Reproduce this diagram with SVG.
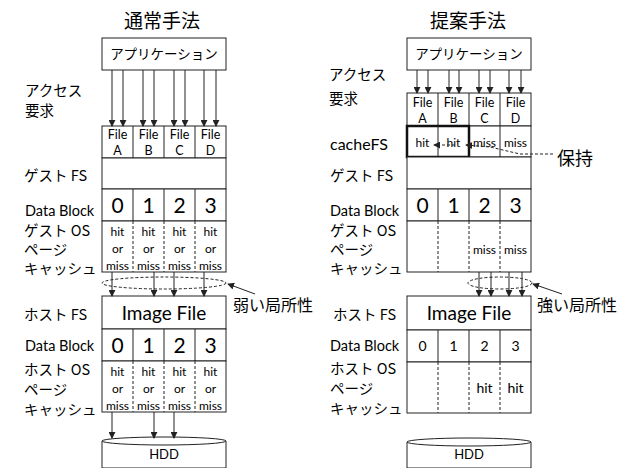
<svg xmlns="http://www.w3.org/2000/svg" width="633" height="468" viewBox="0 0 633 468">
<defs>
<style>
.bx{fill:#fff;stroke:#222;stroke-width:1}
.ln{stroke:#222;stroke-width:1;fill:none}
.dl{stroke:#222;stroke-width:1;fill:none;stroke-dasharray:3,2}
.ar{stroke:#222;stroke-width:1;fill:none;marker-end:url(#ah)}
.jp{font-family:"Noto Sans CJK JP","Noto Sans",sans-serif;fill:#000}
.la{font-family:Lato,"Liberation Sans",sans-serif;fill:#000}
.c{text-anchor:middle}
</style>
<marker id="ah" viewBox="0 0 8 8" refX="7" refY="4" markerWidth="7" markerHeight="7" markerUnits="userSpaceOnUse" orient="auto">
<path d="M0,0 L8,4 L0,8 Z" fill="#222"/>
</marker>
</defs>
<rect width="633" height="468" fill="#fff"/>

<!-- LEFT PANEL -->
<g id="left-title"><text class="jp c" x="162" y="28" font-size="19">通常手法</text></g>
<g id="left-app"><rect class="bx" x="102" y="38" width="124" height="32"/><text class="jp c" x="164" y="59" font-size="13.5">アプリケーション</text></g>
<g id="left-files">
<rect class="bx" x="102" y="126" width="124" height="32"/>
<line class="ln" x1="133" y1="126" x2="133" y2="158"/><line class="ln" x1="164" y1="126" x2="164" y2="158"/><line class="ln" x1="195" y1="126" x2="195" y2="158"/>
<g class="la c" font-size="12.5"><text x="117.5" y="139">File</text><text x="117.5" y="155">A</text><text x="148.5" y="139">File</text><text x="148.5" y="155">B</text><text x="179.5" y="139">File</text><text x="179.5" y="155">C</text><text x="210.5" y="139">File</text><text x="210.5" y="155">D</text></g>
</g>
<g id="left-guestfs"><rect class="bx" x="102" y="158" width="124" height="31"/></g>
<g id="left-datablock">
<rect class="bx" x="102" y="189" width="124" height="32"/>
<line class="ln" x1="133" y1="189" x2="133" y2="221"/><line class="ln" x1="164" y1="189" x2="164" y2="221"/><line class="ln" x1="195" y1="189" x2="195" y2="221"/>
<g class="la c" font-size="21"><text x="117.5" y="213">0</text><text x="148.5" y="213">1</text><text x="179.5" y="213">2</text><text x="210.5" y="213">3</text></g>
</g>
<g id="left-guestcache">
<rect class="bx" x="102" y="221" width="124" height="51"/>
<line class="dl" x1="133" y1="221" x2="133" y2="272"/><line class="dl" x1="164" y1="221" x2="164" y2="272"/><line class="dl" x1="195" y1="221" x2="195" y2="272"/>
<g class="la c" font-size="12"><text x="117.5" y="236">hit</text><text x="117.5" y="253">or</text><text x="117.5" y="270">miss</text><text x="148.5" y="236">hit</text><text x="148.5" y="253">or</text><text x="148.5" y="270">miss</text><text x="179.5" y="236">hit</text><text x="179.5" y="253">or</text><text x="179.5" y="270">miss</text><text x="210.5" y="236">hit</text><text x="210.5" y="253">or</text><text x="210.5" y="270">miss</text></g>
</g>
<g id="left-imagefile"><rect class="bx" x="102" y="296" width="124" height="33"/><text class="la c" x="164" y="320" font-size="19">Image File</text></g>
<g id="left-hostblock">
<rect class="bx" x="102" y="329" width="124" height="32"/>
<line class="ln" x1="133" y1="329" x2="133" y2="361"/><line class="ln" x1="164" y1="329" x2="164" y2="361"/><line class="ln" x1="195" y1="329" x2="195" y2="361"/>
<g class="la c" font-size="21"><text x="117.5" y="353">0</text><text x="148.5" y="353">1</text><text x="179.5" y="353">2</text><text x="210.5" y="353">3</text></g>
</g>
<g id="left-hostcache">
<rect class="bx" x="102" y="361" width="124" height="51"/>
<line class="dl" x1="133" y1="361" x2="133" y2="412"/><line class="dl" x1="164" y1="361" x2="164" y2="412"/><line class="dl" x1="195" y1="361" x2="195" y2="412"/>
<g class="la c" font-size="12"><text x="117.5" y="376">hit</text><text x="117.5" y="393">or</text><text x="117.5" y="410">miss</text><text x="148.5" y="376">hit</text><text x="148.5" y="393">or</text><text x="148.5" y="410">miss</text><text x="179.5" y="376">hit</text><text x="179.5" y="393">or</text><text x="179.5" y="410">miss</text><text x="210.5" y="376">hit</text><text x="210.5" y="393">or</text><text x="210.5" y="410">miss</text></g>
</g>
<g id="left-hdd">
<path class="bx" d="M102,441 L102,468 L226,468 L226,441"/>
<ellipse class="bx" cx="164" cy="441" rx="62" ry="4"/>
<text class="la c" x="164" y="459" font-size="13">HDD</text>
</g>
<g id="left-labels" class="jp" font-size="14.5">
<text x="25" y="96">アクセス</text><text x="25" y="116">要求</text>
<text x="24" y="181">ゲスト FS</text>
<text class="la" x="25" y="216" font-size="14.5">Data Block</text>
<text x="24" y="236">ゲスト OS</text><text x="24" y="255">ページ</text><text x="24" y="274">キャッシュ</text>
<text x="24" y="320">ホスト FS</text>
<text class="la" x="25" y="351" font-size="14.5">Data Block</text>
<text x="24" y="375">ホスト OS</text><text x="24" y="395">ページ</text><text x="24" y="415">キャッシュ</text>
</g>
<g id="left-weak"><text class="jp" x="233" y="311" font-size="16">弱い局所性</text></g>

<!-- RIGHT PANEL -->
<g id="right-title"><text class="jp c" x="468" y="28" font-size="19">提案手法</text></g>
<g id="right-app"><rect class="bx" x="407" y="38" width="124" height="32"/><text class="jp c" x="469" y="59" font-size="13.5">アプリケーション</text></g>
<g id="right-files">
<rect class="bx" x="407" y="93" width="124" height="33"/>
<line class="ln" x1="438" y1="93" x2="438" y2="126"/><line class="ln" x1="469" y1="93" x2="469" y2="126"/><line class="ln" x1="500" y1="93" x2="500" y2="126"/>
<g class="la c" font-size="12.5"><text x="422.5" y="107">File</text><text x="422.5" y="123">A</text><text x="453.5" y="107">File</text><text x="453.5" y="123">B</text><text x="484.5" y="107">File</text><text x="484.5" y="123">C</text><text x="515.5" y="107">File</text><text x="515.5" y="123">D</text></g>
</g>
<g id="right-cachefs">
<rect class="bx" x="407" y="126" width="124" height="31"/>
<line class="ln" x1="438" y1="126" x2="438" y2="157"/><line class="ln" x1="500" y1="126" x2="500" y2="157"/>
<rect x="407" y="126" width="62" height="31" fill="none" stroke="#111" stroke-width="2.5"/>
<g class="la c" font-size="12"><text x="422.5" y="147">hit</text><text x="453.5" y="147">hit</text><text x="484.5" y="147">miss</text><text x="515.5" y="147">miss</text></g>
</g>
<g id="right-guestfs"><rect class="bx" x="407" y="157" width="124" height="32"/></g>
<g id="right-datablock">
<rect class="bx" x="407" y="189" width="124" height="32"/>
<line class="ln" x1="438" y1="189" x2="438" y2="221"/><line class="ln" x1="469" y1="189" x2="469" y2="221"/><line class="ln" x1="500" y1="189" x2="500" y2="221"/>
<g class="la c" font-size="21"><text x="422.5" y="213">0</text><text x="453.5" y="213">1</text><text x="484.5" y="213">2</text><text x="515.5" y="213">3</text></g>
</g>
<g id="right-guestcache">
<rect class="bx" x="407" y="221" width="124" height="51"/>
<line class="dl" x1="438" y1="221" x2="438" y2="272"/><line class="dl" x1="469" y1="221" x2="469" y2="272"/><line class="dl" x1="500" y1="221" x2="500" y2="272"/>
<g class="la c" font-size="12"><text x="484.5" y="254">miss</text><text x="515.5" y="254">miss</text></g>
</g>
<g id="right-imagefile"><rect class="bx" x="407" y="296" width="124" height="34"/><text class="la c" x="469" y="320" font-size="19">Image File</text></g>
<g id="right-hostblock">
<rect class="bx" x="407" y="330" width="124" height="32"/>
<line class="ln" x1="438" y1="330" x2="438" y2="362"/><line class="ln" x1="469" y1="330" x2="469" y2="362"/><line class="ln" x1="500" y1="330" x2="500" y2="362"/>
<g class="la c" font-size="14"><text x="422.5" y="351">0</text><text x="453.5" y="351">1</text><text x="484.5" y="351">2</text><text x="515.5" y="351">3</text></g>
</g>
<g id="right-hostcache">
<rect class="bx" x="407" y="362" width="124" height="51"/>
<line class="dl" x1="438" y1="362" x2="438" y2="413"/><line class="dl" x1="469" y1="362" x2="469" y2="413"/><line class="dl" x1="500" y1="362" x2="500" y2="413"/>
<g class="la c" font-size="14"><text x="484.5" y="393">hit</text><text x="515.5" y="393">hit</text></g>
</g>
<g id="right-hdd">
<path class="bx" d="M407,442 L407,468 L531,468 L531,442"/>
<ellipse class="bx" cx="469" cy="442" rx="62" ry="4"/>
<text class="la c" x="469" y="459" font-size="13">HDD</text>
</g>
<g id="right-labels" class="jp" font-size="14.5">
<text x="329" y="80">アクセス</text><text x="329" y="104">要求</text>
<text class="la" x="330" y="150" font-size="16">cacheFS</text>
<text x="330" y="181">ゲスト FS</text>
<text class="la" x="330" y="216" font-size="14.5">Data Block</text>
<text x="330" y="236">ゲスト OS</text><text x="330" y="255">ページ</text><text x="330" y="274">キャッシュ</text>
<text x="333" y="320">ホスト FS</text>
<text class="la" x="330" y="351" font-size="14.5">Data Block</text>
<text x="330" y="374">ホスト OS</text><text x="330" y="394">ページ</text><text x="330" y="414">キャッシュ</text>
</g>
<g id="right-strong"><text class="jp" x="537" y="311" font-size="16">強い局所性</text></g>
<g id="right-hold"><text class="jp" x="557" y="165" font-size="18">保持</text></g>

<!-- CONNECTORS -->
<g id="connectors">
<line class="ar" x1="112" y1="70" x2="112" y2="126"/><line class="ar" x1="123" y1="70" x2="123" y2="126"/>
<line class="ar" x1="143" y1="70" x2="143" y2="126"/><line class="ar" x1="154" y1="70" x2="154" y2="126"/>
<line class="ar" x1="174" y1="70" x2="174" y2="126"/><line class="ar" x1="185" y1="70" x2="185" y2="126"/>
<line class="ar" x1="204" y1="70" x2="204" y2="126"/><line class="ar" x1="216" y1="70" x2="216" y2="126"/>
<ellipse class="dl" cx="164" cy="283" rx="62" ry="6"/>
<line class="ar" x1="112" y1="272" x2="112" y2="296"/><line class="ar" x1="154" y1="272" x2="154" y2="296"/>
<line class="ar" x1="174" y1="272" x2="174" y2="296"/><line class="ar" x1="204" y1="272" x2="204" y2="296"/>
<line class="ar" x1="255" y1="294" x2="228" y2="284"/>
<line class="ar" x1="112" y1="412" x2="112" y2="438"/><line class="ar" x1="154" y1="412" x2="154" y2="438"/><line class="ar" x1="174" y1="412" x2="174" y2="438"/>

<line class="ar" x1="417" y1="70" x2="417" y2="93"/><line class="ar" x1="428" y1="70" x2="428" y2="93"/>
<line class="ar" x1="449" y1="70" x2="449" y2="93"/><line class="ar" x1="459" y1="70" x2="459" y2="93"/>
<line class="ar" x1="479" y1="70" x2="479" y2="93"/><line class="ar" x1="490" y1="70" x2="490" y2="93"/>
<line class="ar" x1="509" y1="70" x2="509" y2="93"/><line class="ar" x1="521" y1="70" x2="521" y2="93"/>
<ellipse class="dl" cx="500" cy="283" rx="32" ry="6"/>
<line class="ar" x1="479" y1="272" x2="479" y2="296"/><line class="ar" x1="491" y1="272" x2="491" y2="296"/>
<line class="ar" x1="509" y1="272" x2="509" y2="296"/><line class="ar" x1="522" y1="272" x2="522" y2="296"/>
<line class="ar" x1="562" y1="294" x2="533" y2="284"/>
<path class="dl" d="M553,154 L520,154 L490,147 L466,145" marker-end="url(#ah)"/>
<path class="dl" d="M455,145 L434,145" marker-end="url(#ah)"/>
</g>
</svg>
